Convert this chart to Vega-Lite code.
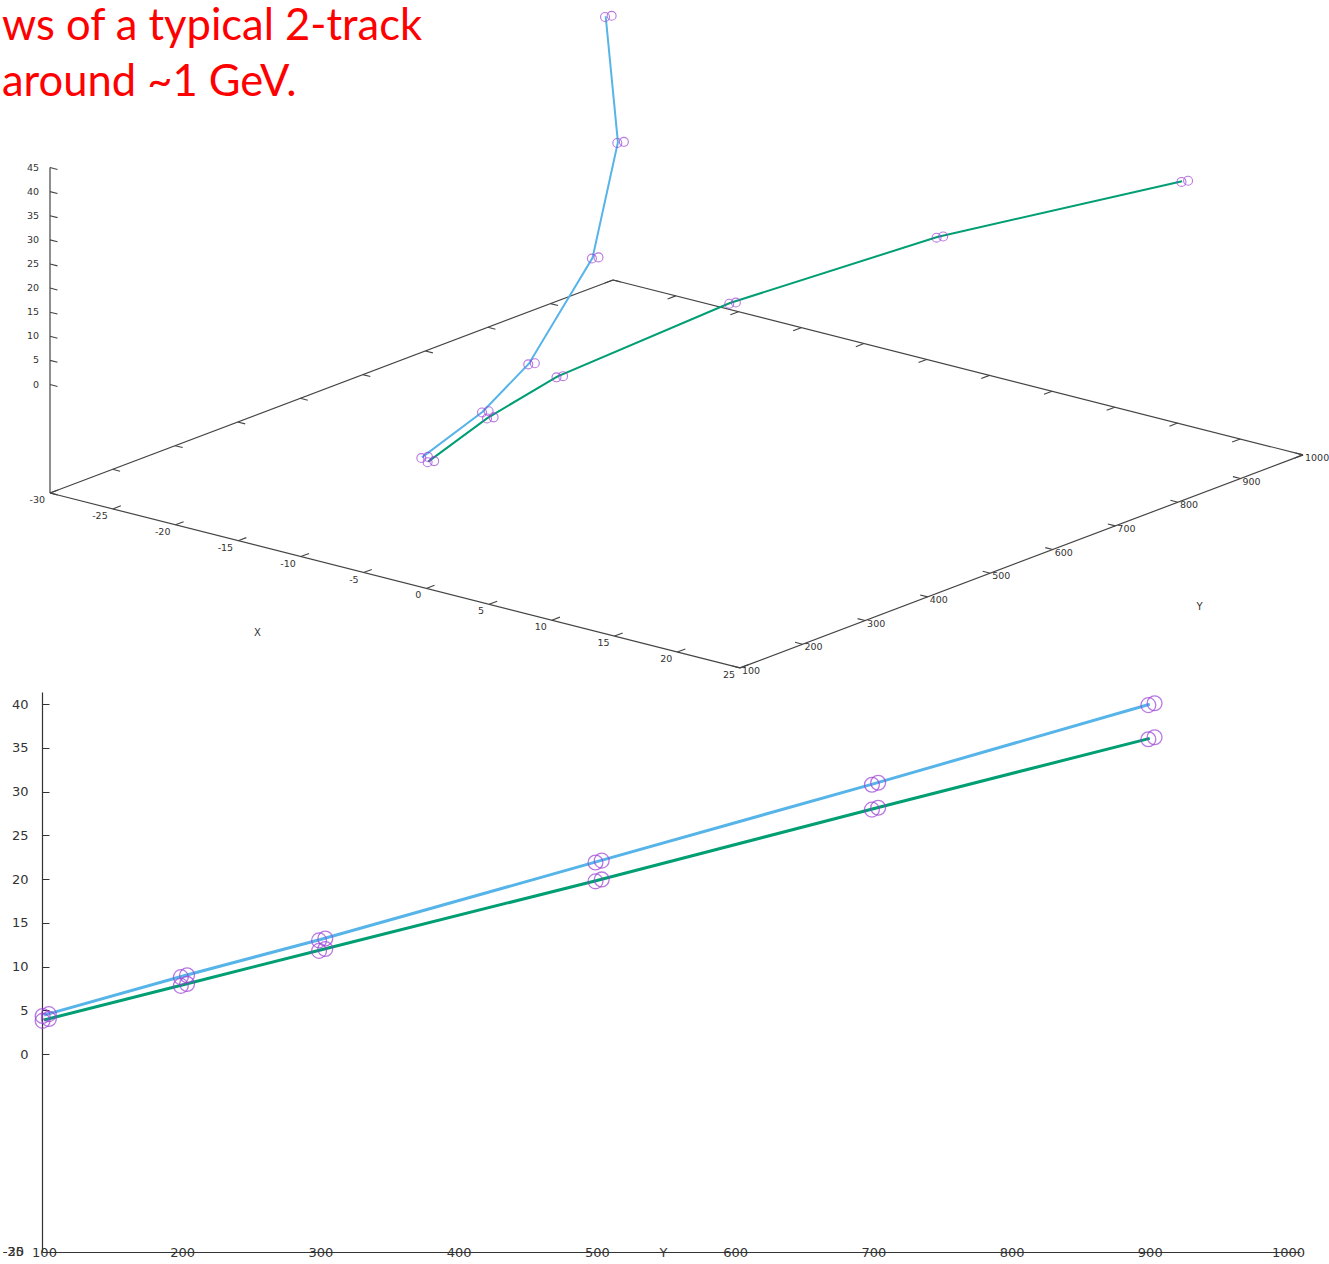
{
  "$schema": "https://vega.github.io/schema/vega-lite/v6.json",
  "width": 1258,
  "height": 1252,
  "autosize": {"type": "none"},
  "padding": {"left": 42, "top": 0, "right": 29, "bottom": 12},
  "background": "white",
  "config": {"view": {"stroke": null}},
  "title": {
    "text": ["ws of a typical 2-track", "around ~1 GeV."],
    "anchor": "start",
    "frame": "group",
    "orient": "top",
    "align": "left",
    "baseline": "top",
    "offset": -105,
    "dx": -40,
    "color": "#ff0000",
    "font": "Lato",
    "fontSize": 43.5,
    "fontWeight": "normal",
    "lineHeight": 56
  },
  "datasets": {
    "frame": [
      {"X1": -30, "Y1": 100, "Z1": -22.5, "X2": 25, "Y2": 100, "Z2": -22.5},
      {"X1": 25, "Y1": 100, "Z1": -22.5, "X2": 25, "Y2": 1000, "Z2": -22.5},
      {"X1": -30, "Y1": 100, "Z1": -22.5, "X2": -30, "Y2": 1000, "Z2": -22.5},
      {"X1": -30, "Y1": 1000, "Z1": -22.5, "X2": 25, "Y2": 1000, "Z2": -22.5},
      {"X1": -30, "Y1": 100, "Z1": -22.5, "X2": -30, "Y2": 100, "Z2": 45}
    ],
    "ticks": [
      {"axis": "x", "v": -30}, {"axis": "x", "v": -25}, {"axis": "x", "v": -20}, {"axis": "x", "v": -15},
      {"axis": "x", "v": -10}, {"axis": "x", "v": -5}, {"axis": "x", "v": 0}, {"axis": "x", "v": 5},
      {"axis": "x", "v": 10}, {"axis": "x", "v": 15}, {"axis": "x", "v": 20}, {"axis": "x", "v": 25},
      {"axis": "y", "v": 100}, {"axis": "y", "v": 200}, {"axis": "y", "v": 300}, {"axis": "y", "v": 400},
      {"axis": "y", "v": 500}, {"axis": "y", "v": 600}, {"axis": "y", "v": 700}, {"axis": "y", "v": 800},
      {"axis": "y", "v": 900}, {"axis": "y", "v": 1000},
      {"axis": "z", "v": 0}, {"axis": "z", "v": 5}, {"axis": "z", "v": 10}, {"axis": "z", "v": 15},
      {"axis": "z", "v": 20}, {"axis": "z", "v": 25}, {"axis": "z", "v": 30}, {"axis": "z", "v": 35},
      {"axis": "z", "v": 40}, {"axis": "z", "v": 45}
    ],
    "axisTitles": [
      {"label": "X", "X": -2.5, "Y": -120, "Z": -22.5},
      {"label": "Y", "X": 39.2, "Y": 550, "Z": -22.5}
    ],
    "track": [
      {"track": "1", "X": -0.35, "Y": 100, "Z": 4.45},
      {"track": "1", "X": -0.5, "Y": 200, "Z": 8.9},
      {"track": "1", "X": -1.8, "Y": 300, "Z": 13.1},
      {"track": "1", "X": -6.7, "Y": 500, "Z": 22.0},
      {"track": "1", "X": -14.65, "Y": 700, "Z": 30.9},
      {"track": "1", "X": -25.6, "Y": 900, "Z": 40.0},
      {"track": "2", "X": 0.15, "Y": 100, "Z": 3.9},
      {"track": "2", "X": -0.1, "Y": 200, "Z": 7.9},
      {"track": "2", "X": 0.45, "Y": 300, "Z": 11.9},
      {"track": "2", "X": 4.25, "Y": 500, "Z": 19.85},
      {"track": "2", "X": 10.8, "Y": 700, "Z": 28.05},
      {"track": "2", "X": 20.35, "Y": 900, "Z": 36.1}
    ],
    "hits": [
      {"track": "1", "X": -0.35, "Y": 99, "Z": 4.35}, {"track": "1", "X": -0.05, "Y": 103.5, "Z": 4.57},
      {"track": "1", "X": -0.5, "Y": 199, "Z": 8.8}, {"track": "1", "X": -0.2, "Y": 203.5, "Z": 9.02},
      {"track": "1", "X": -1.8, "Y": 299, "Z": 13.0}, {"track": "1", "X": -1.5, "Y": 303.5, "Z": 13.22},
      {"track": "1", "X": -6.7, "Y": 499, "Z": 21.9}, {"track": "1", "X": -6.4, "Y": 503.5, "Z": 22.12},
      {"track": "1", "X": -14.65, "Y": 699, "Z": 30.8}, {"track": "1", "X": -14.35, "Y": 703.5, "Z": 31.02},
      {"track": "1", "X": -25.6, "Y": 899, "Z": 39.9}, {"track": "1", "X": -25.3, "Y": 903.5, "Z": 40.12},
      {"track": "2", "X": 0.15, "Y": 99, "Z": 3.8}, {"track": "2", "X": 0.45, "Y": 103.5, "Z": 4.02},
      {"track": "2", "X": -0.1, "Y": 199, "Z": 7.8}, {"track": "2", "X": 0.2, "Y": 203.5, "Z": 8.02},
      {"track": "2", "X": 0.45, "Y": 299, "Z": 11.8}, {"track": "2", "X": 0.75, "Y": 303.5, "Z": 12.02},
      {"track": "2", "X": 4.25, "Y": 499, "Z": 19.75}, {"track": "2", "X": 4.55, "Y": 503.5, "Z": 19.97},
      {"track": "2", "X": 10.8, "Y": 699, "Z": 27.95}, {"track": "2", "X": 11.1, "Y": 703.5, "Z": 28.17},
      {"track": "2", "X": 20.35, "Y": 899, "Z": 36.0}, {"track": "2", "X": 20.65, "Y": 903.5, "Z": 36.22}
    ]
  },
  "resolve": {"scale": {"x": "independent", "y": "independent"}},
  "layer": [
    {
      "layer": [
        {
          "data": {"name": "frame"},
          "transform": [
            {"calculate": "50 + 12.545*(datum.X1+30) + 0.6256*(datum.Y1-100)", "as": "sx"},
            {"calculate": "493 + 3.18*(datum.X1+30) - 0.2367*(datum.Y1-100) - 4.822*(datum.Z1+22.5)", "as": "sy"},
            {"calculate": "50 + 12.545*(datum.X2+30) + 0.6256*(datum.Y2-100)", "as": "sx2"},
            {"calculate": "493 + 3.18*(datum.X2+30) - 0.2367*(datum.Y2-100) - 4.822*(datum.Z2+22.5)", "as": "sy2"}
          ],
          "mark": {"type": "rule", "color": "#444444", "strokeWidth": 1.2},
          "encoding": {
            "x": {"field": "sx", "type": "quantitative", "scale": {"domain": [42, 1300], "nice": false, "zero": false}, "axis": null},
            "y": {"field": "sy", "type": "quantitative", "scale": {"domain": [1252, 0], "nice": false, "zero": false}, "axis": null},
            "x2": {"field": "sx2"},
            "y2": {"field": "sy2"}
          }
        },
        {
          "data": {"name": "ticks"},
          "transform": [
            {"calculate": "datum.axis=='x' ? datum.v : (datum.axis=='y' ? 25 : -30)", "as": "X1"},
            {"calculate": "datum.axis=='y' ? datum.v : 100", "as": "Y1"},
            {"calculate": "datum.axis=='z' ? datum.v : -22.5", "as": "Z1"},
            {"calculate": "datum.axis=='x' ? datum.v : (datum.axis=='y' ? 24.4 : -29.4)", "as": "X2"},
            {"calculate": "datum.axis=='x' ? 113 : datum.Y1", "as": "Y2"},
            {"calculate": "50 + 12.545*(datum.X1+30) + 0.6256*(datum.Y1-100)", "as": "sx"},
            {"calculate": "493 + 3.18*(datum.X1+30) - 0.2367*(datum.Y1-100) - 4.822*(datum.Z1+22.5)", "as": "sy"},
            {"calculate": "50 + 12.545*(datum.X2+30) + 0.6256*(datum.Y2-100)", "as": "sx2"},
            {"calculate": "493 + 3.18*(datum.X2+30) - 0.2367*(datum.Y2-100) - 4.822*(datum.Z1+22.5)", "as": "sy2"}
          ],
          "mark": {"type": "rule", "color": "#444444", "strokeWidth": 1.1},
          "encoding": {
            "x": {"field": "sx", "type": "quantitative", "scale": {"domain": [42, 1300], "nice": false, "zero": false}, "axis": null},
            "y": {"field": "sy", "type": "quantitative", "scale": {"domain": [1252, 0], "nice": false, "zero": false}, "axis": null},
            "x2": {"field": "sx2"},
            "y2": {"field": "sy2"}
          }
        },
        {
          "data": {"name": "ticks"},
          "transform": [
            {"filter": "datum.axis != 'z'"},
            {"calculate": "datum.axis=='x' ? datum.v : -30", "as": "X1"},
            {"calculate": "datum.axis=='x' ? 1000 : datum.v", "as": "Y1"},
            {"calculate": "datum.axis=='x' ? datum.v : -29.4", "as": "X2"},
            {"calculate": "datum.axis=='x' ? 987 : datum.v", "as": "Y2"},
            {"calculate": "50 + 12.545*(datum.X1+30) + 0.6256*(datum.Y1-100)", "as": "sx"},
            {"calculate": "493 + 3.18*(datum.X1+30) - 0.2367*(datum.Y1-100)", "as": "sy"},
            {"calculate": "50 + 12.545*(datum.X2+30) + 0.6256*(datum.Y2-100)", "as": "sx2"},
            {"calculate": "493 + 3.18*(datum.X2+30) - 0.2367*(datum.Y2-100)", "as": "sy2"}
          ],
          "mark": {"type": "rule", "color": "#444444", "strokeWidth": 1.1},
          "encoding": {
            "x": {"field": "sx", "type": "quantitative", "scale": {"domain": [42, 1300], "nice": false, "zero": false}, "axis": null},
            "y": {"field": "sy", "type": "quantitative", "scale": {"domain": [1252, 0], "nice": false, "zero": false}, "axis": null},
            "x2": {"field": "sx2"},
            "y2": {"field": "sy2"}
          }
        },
        {
          "data": {"name": "ticks"},
          "transform": [
            {"filter": "datum.axis == 'x'"},
            {"calculate": "'' + datum.v", "as": "lab"},
            {"calculate": "50 + 12.545*(datum.v+30)", "as": "sx"},
            {"calculate": "493 + 3.18*(datum.v+30)", "as": "sy"}
          ],
          "mark": {"type": "text", "align": "right", "baseline": "middle", "dx": -5, "dy": 7, "font": "DejaVu Sans", "fontSize": 9.5, "color": "#333333"},
          "encoding": {
            "x": {"field": "sx", "type": "quantitative", "scale": {"domain": [42, 1300], "nice": false, "zero": false}, "axis": null},
            "y": {"field": "sy", "type": "quantitative", "scale": {"domain": [1252, 0], "nice": false, "zero": false}, "axis": null},
            "text": {"field": "lab"}
          }
        },
        {
          "data": {"name": "ticks"},
          "transform": [
            {"filter": "datum.axis == 'y'"},
            {"calculate": "'' + datum.v", "as": "lab"},
            {"calculate": "50 + 12.545*55 + 0.6256*(datum.v-100)", "as": "sx"},
            {"calculate": "493 + 3.18*55 - 0.2367*(datum.v-100)", "as": "sy"}
          ],
          "mark": {"type": "text", "align": "left", "baseline": "middle", "dx": 2, "dy": 3, "font": "DejaVu Sans", "fontSize": 9.5, "color": "#333333"},
          "encoding": {
            "x": {"field": "sx", "type": "quantitative", "scale": {"domain": [42, 1300], "nice": false, "zero": false}, "axis": null},
            "y": {"field": "sy", "type": "quantitative", "scale": {"domain": [1252, 0], "nice": false, "zero": false}, "axis": null},
            "text": {"field": "lab"}
          }
        },
        {
          "data": {"name": "ticks"},
          "transform": [
            {"filter": "datum.axis == 'z'"},
            {"calculate": "'' + datum.v", "as": "lab"},
            {"calculate": "50", "as": "sx"},
            {"calculate": "493 - 4.822*(datum.v+22.5)", "as": "sy"}
          ],
          "mark": {"type": "text", "align": "right", "baseline": "middle", "dx": -11, "font": "DejaVu Sans", "fontSize": 9.5, "color": "#333333"},
          "encoding": {
            "x": {"field": "sx", "type": "quantitative", "scale": {"domain": [42, 1300], "nice": false, "zero": false}, "axis": null},
            "y": {"field": "sy", "type": "quantitative", "scale": {"domain": [1252, 0], "nice": false, "zero": false}, "axis": null},
            "text": {"field": "lab"}
          }
        },
        {
          "data": {"name": "axisTitles"},
          "transform": [
            {"calculate": "50 + 12.545*(datum.X+30) + 0.6256*(datum.Y-100)", "as": "sx"},
            {"calculate": "493 + 3.18*(datum.X+30) - 0.2367*(datum.Y-100) - 4.822*(datum.Z+22.5)", "as": "sy"}
          ],
          "mark": {"type": "text", "align": "center", "baseline": "middle", "font": "DejaVu Sans", "fontSize": 10, "color": "#333333"},
          "encoding": {
            "x": {"field": "sx", "type": "quantitative", "scale": {"domain": [42, 1300], "nice": false, "zero": false}, "axis": null},
            "y": {"field": "sy", "type": "quantitative", "scale": {"domain": [1252, 0], "nice": false, "zero": false}, "axis": null},
            "text": {"field": "label"}
          }
        },
        {
          "data": {"name": "track"},
          "transform": [
            {"calculate": "50 + 12.545*(datum.X+30) + 0.6256*(datum.Y-100)", "as": "sx"},
            {"calculate": "493 + 3.18*(datum.X+30) - 0.2367*(datum.Y-100) - 4.822*(datum.Z+22.5)", "as": "sy"}
          ],
          "mark": {"type": "line", "strokeWidth": 2},
          "encoding": {
            "x": {"field": "sx", "type": "quantitative", "scale": {"domain": [42, 1300], "nice": false, "zero": false}, "axis": null},
            "y": {"field": "sy", "type": "quantitative", "scale": {"domain": [1252, 0], "nice": false, "zero": false}, "axis": null},
            "order": {"field": "Y", "type": "quantitative"},
            "color": {"field": "track", "type": "nominal", "scale": {"domain": ["1", "2"], "range": ["#56b4e9", "#009e73"]}, "legend": null}
          }
        },
        {
          "data": {"name": "hits"},
          "transform": [
            {"calculate": "50 + 12.545*(datum.X+30) + 0.6256*(datum.Y-100)", "as": "sx"},
            {"calculate": "493 + 3.18*(datum.X+30) - 0.2367*(datum.Y-100) - 4.822*(datum.Z+22.5)", "as": "sy"}
          ],
          "mark": {"type": "point", "shape": "circle", "filled": false, "size": 80, "strokeWidth": 1.1, "color": "#9b3fd8"},
          "encoding": {
            "x": {"field": "sx", "type": "quantitative", "scale": {"domain": [42, 1300], "nice": false, "zero": false}, "axis": null},
            "y": {"field": "sy", "type": "quantitative", "scale": {"domain": [1252, 0], "nice": false, "zero": false}, "axis": null}
          }
        }
      ]
    },
    {
      "layer": [
        {
          "data": {"name": "track"},
          "mark": {"type": "line", "strokeWidth": 3},
          "encoding": {
            "x": {
              "field": "Y", "type": "quantitative",
              "scale": {"domain": [98.55, 1008.7], "nice": false, "zero": false},
              "axis": {
                "orient": "bottom", "values": [100, 200, 300, 400, 500, 600, 700, 800, 900, 1000], "format": "d",
                "grid": false, "ticks": false, "labelPadding": 0, "labelBaseline": "middle",
                "labelFlush": false, "labelOverlap": false, "labelBound": false,
                "labelFont": "DejaVu Sans", "labelFontSize": 13, "labelColor": "#333333",
                "domainColor": "#333333", "domainWidth": 1.2,
                "title": "Y", "titleX": 621, "titleY": 0, "titleBaseline": "middle", "titleAlign": "center",
                "titleFont": "DejaVu Sans", "titleFontSize": 13, "titleFontWeight": "normal", "titleColor": "#333333"
              }
            },
            "y": {
              "field": "Z", "type": "quantitative",
              "scale": {"domain": [-22.63, 41.4], "range": [1252, 692], "nice": false, "zero": false},
              "axis": {
                "orient": "left", "values": [0, 5, 10, 15, 20, 25, 30, 35, 40],
                "grid": false, "tickSize": -7, "tickColor": "#333333", "labelPadding": 21,
                "labelFont": "DejaVu Sans", "labelFontSize": 13, "labelColor": "#333333",
                "labelOverlap": false, "labelBound": false,
                "domainColor": "#333333", "domainWidth": 1.2, "title": null
              }
            },
            "order": {"field": "Y", "type": "quantitative"},
            "color": {"field": "track", "type": "nominal", "scale": {"domain": ["1", "2"], "range": ["#56b4e9", "#009e73"]}, "legend": null}
          }
        },
        {
          "data": {"name": "hits"},
          "mark": {"type": "point", "shape": "circle", "filled": false, "size": 220, "strokeWidth": 1.3, "color": "#9b3fd8"},
          "encoding": {
            "x": {"field": "Y", "type": "quantitative"},
            "y": {"field": "Z", "type": "quantitative"}
          }
        },
        {
          "data": {"name": "ticks"},
          "transform": [
            {"filter": "datum.axis == 'x' && datum.v <= -25"},
            {"calculate": "'' + datum.v", "as": "lab"}
          ],
          "mark": {"type": "text", "align": "right", "baseline": "middle", "dx": -18, "font": "DejaVu Sans", "fontSize": 13, "color": "#333333"},
          "encoding": {
            "x": {"datum": 98.55, "type": "quantitative"},
            "y": {"datum": -22.63, "type": "quantitative"},
            "text": {"field": "lab"}
          }
        }
      ]
    }
  ]
}
